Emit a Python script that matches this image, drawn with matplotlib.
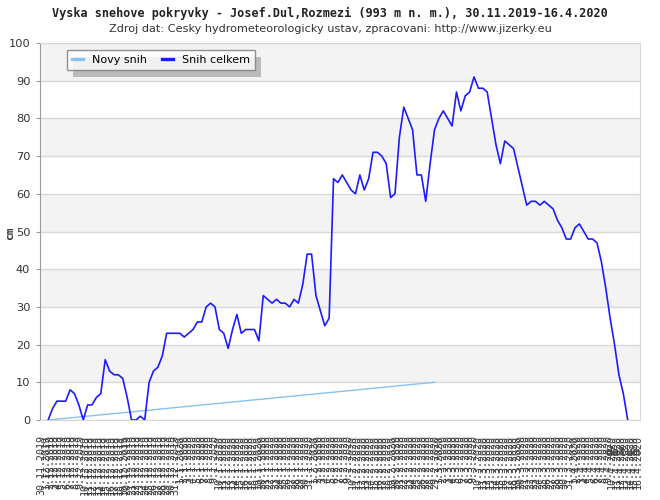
import datetime as dt
import numpy as np
import matplotlib
matplotlib.use("Agg")
import matplotlib.pyplot as plt
from matplotlib.lines import Line2D
from matplotlib.patches import Rectangle
from matplotlib.transforms import IdentityTransform

title = "Vyska snehove pokryvky - Josef.Dul,Rozmezi (993 m n. m.), 30.11.2019-16.4.2020"
subtitle = "Zdroj dat: Cesky hydrometeorologicky ustav, zpracovani: http://www.jizerky.eu"

# date labels on the x axis (30.11.2019 .. 16.4.2020)
d0 = dt.date(2019, 11, 30)
d1 = dt.date(2020, 4, 16)
date_labels = [f"{(d0 + dt.timedelta(days=k)).day}.{(d0 + dt.timedelta(days=k)).month}.{(d0 + dt.timedelta(days=k)).year}"
               for k in range((d1 - d0).days + 1)]

# Snih celkem (cm)
snih_celkem = [0, 3, 5, 5, 5, 8, 7, 4, 0, 4,
               4, 6, 7, 16, 13, 12, 12, 11, 6, 0,
               0, 1, 0, 10, 13, 14, 17, 23, 23, 23,
               23, 22, 23, 24, 26, 26, 30, 31, 30, 24,
               23, 19, 24, 28, 23, 24, 24, 24, 21, 33,
               32, 31, 32, 31, 31, 30, 32, 31, 36, 44,
               44, 33, 29, 25, 27, 64, 63, 65, 63, 61,
               60, 65, 61, 64, 71, 71, 70, 68, 59, 60,
               75, 83, 80, 77, 65, 65, 58, 68, 77, 80,
               82, 80, 78, 87, 82, 86, 87, 91, 88, 88,
               87, 80, 73, 68, 74, 73, 72, 67, 62, 57,
               58, 58, 57, 58, 57, 56, 53, 51, 48, 48,
               51, 52, 50, 48, 48, 47, 42, 35, 27, 20,
               12, 7, 0]

# Novy snih (cm) and its positions
novy_snih_pos = [0, 88]
novy_snih = [0, 10]

y_ticks = [0, 10, 20, 30, 40, 50, 60, 70, 80, 90, 100]

fig = plt.figure(figsize=(6.6, 5.0), dpi=100)
ax = fig.add_axes([40 / 660, 1 - 420 / 500, 600 / 660, 377 / 500])

for k in range(1, 10, 2):
    ax.axhspan(10 * k, 10 * k + 10, facecolor="#f3f3f3", edgecolor="none", zorder=0)

x = np.arange(len(snih_celkem))
ax.plot(novy_snih_pos, novy_snih, color="#86c3f0", lw=1.0, zorder=3)
ax.plot(x, snih_celkem, color="#1c1cff", lw=1.2, zorder=4)

ax.set_xlim(-1.85, 134.8)
ax.set_ylim(0, 100)
ax.set_yticks(y_ticks)
ax.set_yticklabels([str(v) for v in y_ticks], fontsize=8.2, color="#333333")
ax.yaxis.grid(True, color="#d9d9d9", lw=1.0)
ax.set_axisbelow(True)
ax.tick_params(axis="y", length=3, width=0.8, color="#999999", pad=4)

ax.set_xticks(np.linspace(-1.6, 134.4, len(date_labels)))
ax.set_xticklabels(date_labels, rotation=90, fontsize=7.2, family="DejaVu Sans Mono",
                   color="#3a3a3a", va="top", ha="center")
ax.tick_params(axis="x", length=0, pad=10.5)

for s in ["top", "right", "bottom"]:
    ax.spines[s].set_color("#d6d6d6")
ax.spines["left"].set_color("#9a9a9a")

fig.text(10 / 660, 1 - 233 / 500, "cm", rotation=90, ha="center", va="center",
         family="DejaVu Sans Mono", fontweight="bold", fontsize=8, color="#333333")

fig.text(0.5, 1 - 13 / 500, title, ha="center", va="center", family="DejaVu Sans Mono",
         fontweight="bold", fontsize=8.45, color="#222222")
fig.text(0.5, 1 - 29 / 500, subtitle, ha="center", va="center", fontsize=8.1, color="#333333")
fig.text(640 / 660, 1 - 453 / 500, "datum", ha="right", va="center", family="DejaVu Sans Mono",
         fontweight="bold", fontsize=8.4, color="#444444")

handles = [Line2D([], [], color="#86c3f0", lw=2.4), Line2D([], [], color="#1c1cff", lw=2.4)]
leg = ax.legend(handles, ["Novy snih", "Snih celkem"], loc="upper left",
                bbox_to_anchor=(0.045, 0.981), borderaxespad=0, ncol=2, fontsize=8,
                handlelength=1.0, handletextpad=0.8, columnspacing=1.35, borderpad=0.45,
                fancybox=False, frameon=True)
leg.get_frame().set_edgecolor("#777777")
leg.get_frame().set_linewidth(1.0)
leg.set_zorder(6)

fig.canvas.draw()
bb = leg.get_window_extent()
shadow = Rectangle((bb.x0 + 6, bb.y0 - 7), bb.width, bb.height, transform=IdentityTransform(),
                   facecolor="#bbbbbb", edgecolor="none", zorder=5.5, clip_on=False)
ax.add_artist(shadow)

fig.savefig("out.png", dpi=100)
